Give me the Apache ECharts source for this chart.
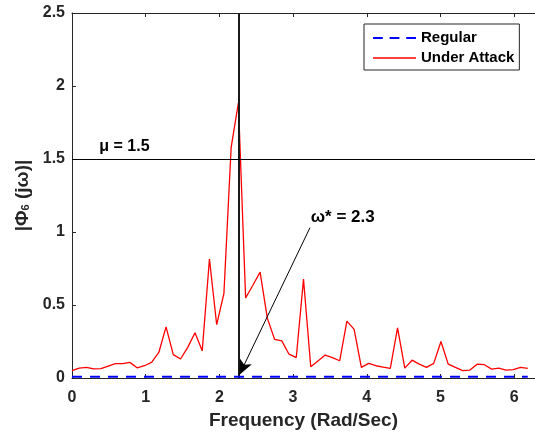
<!DOCTYPE html>
<html>
<head>
<meta charset="utf-8">
<script src="https://cdn.jsdelivr.net/npm/echarts@6/dist/echarts.min.js"></script>
<style>
html,body{margin:0;padding:0;background:#fff;}
#c{width:535px;height:435px;}
</style>
</head>
<body>
<div id="c"></div>
<script>
// DFT frequency grid: 64 bins over [0, 2*pi)
var N = 64;
var freqStep = 2 * Math.PI / N;
var xTicks = [0, 1, 2, 3, 4, 5, 6];
var yTicks = [0, 0.5, 1, 1.5, 2, 2.5];

var underAttack = [
  0.050, 0.068, 0.073, 0.062, 0.064, 0.082, 0.098, 0.098, 0.107, 0.070,
  0.084, 0.107, 0.175, 0.350, 0.160, 0.130, 0.210, 0.310, 0.186, 0.815,
  0.365, 0.580, 1.580, 1.885, 0.548, 0.635, 0.725, 0.410, 0.265, 0.254,
  0.163, 0.140, 0.677, 0.077, 0.117, 0.157, 0.140, 0.118, 0.390, 0.333,
  0.073, 0.100, 0.084, 0.075, 0.066, 0.344, 0.068, 0.122, 0.095, 0.073,
  0.100, 0.250, 0.095, 0.073, 0.050, 0.054, 0.095, 0.091, 0.061, 0.068,
  0.054, 0.057, 0.073, 0.066
];
var regular = [
  0.008, 0.008, 0.008, 0.008, 0.008, 0.008, 0.008, 0.008, 0.008, 0.008,
  0.008, 0.008, 0.008, 0.008, 0.008, 0.008, 0.008, 0.008, 0.008, 0.008,
  0.008, 0.008, 0.008, 0.008, 0.008, 0.008, 0.008, 0.008, 0.008, 0.008,
  0.008, 0.008, 0.008, 0.008, 0.008, 0.008, 0.008, 0.008, 0.008, 0.008,
  0.008, 0.008, 0.008, 0.008, 0.008, 0.008, 0.008, 0.008, 0.008, 0.008,
  0.008, 0.008, 0.008, 0.008, 0.008, 0.008, 0.008, 0.008, 0.008, 0.008,
  0.008, 0.008, 0.008, 0.008
];
var seriesNames = ['Regular', 'Under Attack'];
var threshold = 1.5;            // mu
var peakIndex = 23;             // omega* bin
var omegaStar = peakIndex * freqStep;
var arrowStart = [3.23, 1.03];
var arrowEnd = [2.272, 0.022];
var muLabelPos = [0.37, 1.5];
var omegaLabelPos = [3.24, 1.04];

var FONT = '"Liberation Sans", Arial, Helvetica, sans-serif';
var AX = '#262626';

function pairs(vals) {
  return vals.map(function (v, i) { return [i * freqStep, v]; });
}

var labelBase = {show: true, position: 'inside', align: 'left', verticalAlign: 'bottom',
  fontFamily: FONT, fontWeight: 'bold', fontSize: 16, color: '#000'};

var chart = echarts.init(document.getElementById('c'), null, {renderer: 'canvas'});
chart.setOption({
  animation: false,
  backgroundColor: '#fff',
  grid: {left: 72, top: 13, width: 467.5, height: 368, containLabel: false},
  legend: {
    orient: 'vertical',
    left: 364, top: 24,
    padding: [6, 5, 4, 9],
    itemGap: 4,
    itemWidth: 43, itemHeight: 2,
    symbolKeepAspect: true,
    borderColor: '#262626', borderWidth: 1,
    backgroundColor: '#fff',
    textStyle: {fontFamily: FONT, fontWeight: 'bold', fontSize: 15, color: '#000', lineHeight: 16},
    data: [
      {name: seriesNames[0], icon: 'path://M0,0h10v2h-10zM17,0h10v2h-10zM34,0h10v2h-10z', itemStyle: {color: '#0000ff'}},
      {name: seriesNames[1], icon: 'path://M0,0h44v1.4h-44z', itemStyle: {color: '#ff0000'}}
    ]
  },
  xAxis: [{
    type: 'value', min: 0, max: 2 * Math.PI, interval: 1,
    position: 'bottom',
    axisLine: {show: true, lineStyle: {color: AX, width: 1}},
    axisTick: {show: true, inside: true, length: 4, lineStyle: {color: AX}},
    axisLabel: {
      margin: 12, color: AX, fontFamily: FONT, fontWeight: 'bold', fontSize: 16,
      showMaxLabel: false,
      formatter: function (v) { return xTicks.indexOf(v) >= 0 ? String(v) : ''; }
    },
    splitLine: {show: false},
    name: 'Frequency (Rad/Sec)', nameLocation: 'middle', nameGap: 33,
    nameTextStyle: {fontFamily: FONT, fontWeight: 'bold', fontSize: 19, color: AX}
  }, {
    type: 'value', min: 0, max: 2 * Math.PI, interval: 1,
    position: 'top',
    axisLine: {show: true, lineStyle: {color: AX, width: 1}},
    axisTick: {show: true, inside: true, length: 4, lineStyle: {color: AX}},
    axisLabel: {show: false},
    splitLine: {show: false}
  }],
  yAxis: [{
    type: 'value', min: 0, max: 2.5, interval: 0.5,
    axisLine: {show: true, lineStyle: {color: AX, width: 1}},
    axisTick: {show: true, inside: true, length: 4, lineStyle: {color: AX}},
    axisLabel: {
      margin: 7, color: AX, fontFamily: FONT, fontWeight: 'bold', fontSize: 16,
      formatter: function (v) { return yTicks.indexOf(v) >= 0 ? String(v) : ''; }
    },
    splitLine: {show: false},
    name: '{a||Φ}{s|6}{a| (jω)|}', nameLocation: 'middle', nameGap: 38, nameRotate: 90,
    nameTextStyle: {
      color: AX,
      rich: {
        a: {fontFamily: FONT, fontWeight: 'bold', fontSize: 19, color: AX},
        s: {fontFamily: FONT, fontWeight: 'bold', fontSize: 11, color: AX, padding: [8, 0, 0, 0]}
      }
    }
  }],
  series: [{
    name: seriesNames[0], type: 'line', data: pairs(regular),
    symbol: 'none', showSymbol: false, z: 5,
    lineStyle: {color: '#0000ff', width: 2, type: [10, 8]},
    itemStyle: {color: '#0000ff'}
  }, {
    name: seriesNames[1], type: 'line', data: pairs(underAttack),
    symbol: 'none', showSymbol: false, z: 4,
    lineStyle: {color: '#ff0000', width: 1.3},
    itemStyle: {color: '#ff0000'},
    markLine: {
      silent: true, animation: false,
      symbol: ['none', 'none'],
      label: {show: false},
      data: [
        [{coord: [omegaStar, 0], symbol: 'none', lineStyle: {color: '#1a1a1a', width: 2, type: 'solid'}},
         {coord: [omegaStar, 2.5], symbol: 'none'}],
        [{coord: [0, threshold], symbol: 'none', lineStyle: {color: '#000', width: 1.2, type: 'solid'}},
         {coord: [2 * Math.PI, threshold], symbol: 'none'}],
        [{coord: arrowStart, symbol: 'none', lineStyle: {color: '#000', width: 1, type: 'solid'}},
         {coord: arrowEnd, symbol: 'arrow', symbolSize: [10, 15]}]
      ]
    },
    markPoint: {
      silent: true, animation: false,
      symbol: 'circle', symbolSize: 1,
      itemStyle: {color: 'rgba(0,0,0,0)'},
      data: [
        {coord: muLabelPos, label: Object.assign({}, labelBase, {offset: [0, -4], formatter: 'μ = 1.5'})},
        {coord: omegaLabelPos, label: Object.assign({}, labelBase, {offset: [0, 0], fontSize: 17, formatter: 'ω* = 2.3'})}
      ]
    }
  }]
});
</script>
</body>
</html>
